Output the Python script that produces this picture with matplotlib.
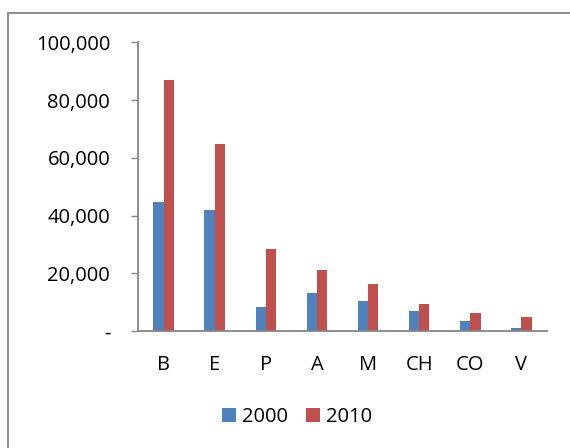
import numpy as np
import matplotlib
matplotlib.use("Agg")
import matplotlib.pyplot as plt
from matplotlib.patches import Rectangle
from matplotlib.ticker import FuncFormatter

categories = ["B", "E", "P", "A", "M", "CH", "CO", "V"]
values_2000 = [44700, 42000, 8400, 13000, 10400, 6900, 3400, 1000]
values_2010 = [87000, 64700, 28500, 21100, 16200, 9200, 6200, 4900]
series_names = ["2000", "2010"]

blue = "#4F81BD"
red = "#C0504D"
grey = "#868686"

plt.rcParams["font.family"] = ["Open Sans", "DejaVu Sans"]
fs = 14.5

fig = plt.figure(figsize=(5.7, 4.48), dpi=100)
ax = fig.add_axes([138 / 570, (448 - 331) / 448, 409 / 570, (331 - 42.5) / 448])

ind = np.arange(len(categories))
width = 0.2
b1 = ax.bar(ind - width / 2, values_2000, width, color=blue, label=series_names[0])
b2 = ax.bar(ind + width / 2, values_2010, width, color=red, label=series_names[1])

ax.set_xlim(-0.5, len(categories) - 0.5)
ax.set_ylim(0, 100000)
ax.set_yticks(np.arange(0, 100001, 20000))
ax.yaxis.set_major_formatter(FuncFormatter(lambda v, p: "-" if v == 0 else "{:,.0f}".format(v)))
ax.set_xticks(ind)
ax.set_xticklabels(categories)

for s in ["top", "right"]:
	ax.spines[s].set_visible(False)
for s in ["left", "bottom"]:
	ax.spines[s].set_color(grey)
	ax.spines[s].set_linewidth(1.3)

ax.tick_params(axis="y", length=5, width=1.0, color=grey, pad=15, labelsize=fs)
ax.tick_params(axis="x", length=0, pad=17, labelsize=fs)

fig.legend(handles=[b1, b2], labels=series_names, loc="center",
	bbox_to_anchor=(297 / 570, 31 / 448), ncol=2, frameon=False, fontsize=fs,
	handlelength=0.7, handleheight=0.7, handletextpad=0.3, columnspacing=0.9)

# chart area border (cut off on the right and bottom)
fig.patches.append(Rectangle((8 / 570, -0.2), 1.5, 0.2 + (448 - 13) / 448,
	transform=fig.transFigure, fill=False, edgecolor=grey, linewidth=1.3))

fig.savefig("out.png", dpi=100)
